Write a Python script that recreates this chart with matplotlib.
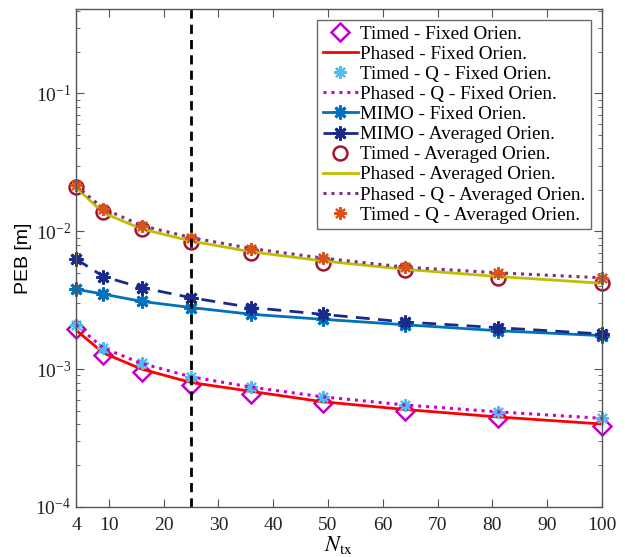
import matplotlib
matplotlib.use("Agg")
import matplotlib.pyplot as plt

# Data

n_tx = [4, 9, 16, 25, 36, 49, 64, 81, 100]

timed_fixed = [0.00197, 0.00127, 0.00096, 0.00077, 0.00066, 0.00057, 0.00050, 0.00044, 0.00039]
phased_fixed = [0.00192, 0.00131, 0.00100, 0.00080, 0.00069, 0.00058, 0.00051, 0.00045, 0.00040]
timed_q_fixed = [0.00210, 0.00142, 0.00110, 0.00088, 0.00074, 0.00063, 0.00055, 0.00049, 0.00044]
phased_q_fixed = [0.00210, 0.00142, 0.00110, 0.00088, 0.00074, 0.00063, 0.00055, 0.00049, 0.00044]
mimo_fixed = [0.0038, 0.0035, 0.0031, 0.0028, 0.0025, 0.0023, 0.0021, 0.0019, 0.00175]
mimo_avg = [0.0063, 0.0047, 0.0039, 0.0033, 0.0028, 0.0025, 0.0022, 0.0020, 0.0018]
timed_avg = [0.0208, 0.0139, 0.0104, 0.0084, 0.0070, 0.0059, 0.0052, 0.0046, 0.0042]
phased_avg = [0.0208, 0.0136, 0.0104, 0.0085, 0.0071, 0.0061, 0.0053, 0.0047, 0.0042]
phased_q_avg = [0.0215, 0.0146, 0.0110, 0.0090, 0.0075, 0.0064, 0.0055, 0.0050, 0.0046]
timed_q_avg = [0.0215, 0.0146, 0.0110, 0.0090, 0.0075, 0.0064, 0.0055, 0.0050, 0.0046]

legend_labels = [
    "Timed - Fixed Orien.",
    "Phased - Fixed Orien.",
    "Timed - Q - Fixed Orien.",
    "Phased - Q - Fixed Orien.",
    "MIMO - Fixed Orien.",
    "MIMO - Averaged Orien.",
    "Timed - Averaged Orien.",
    "Phased - Averaged Orien.",
    "Phased - Q - Averaged Orien.",
    "Timed - Q - Averaged Orien.",
]

plt.rcParams["font.family"] = ["Liberation Serif", "DejaVu Serif"]
plt.rcParams["mathtext.fontset"] = "stix"

fig = plt.figure(figsize=(6.25, 5.57), dpi=100)
ax = fig.add_axes([0.1216, 0.0898, 0.8416, 0.894])

star = (8, 2, 0)

ax.plot(n_tx, timed_fixed, linestyle="none", marker="D", markersize=9,
        markerfacecolor="none", markeredgecolor="#C000C8", markeredgewidth=1.8,
        label=legend_labels[0], clip_on=False)
ax.plot(n_tx, phased_fixed, color="#FF0000", linewidth=2, label=legend_labels[1])
ax.plot(n_tx, timed_q_fixed, linestyle="none", marker=star, markersize=9,
        color="#4DBEEE", markeredgewidth=1.6, label=legend_labels[2], clip_on=False)
ax.plot(n_tx, phased_q_fixed, color="#CC00CC", linewidth=2.2, linestyle=(0, (1, 1.6)),
        label=legend_labels[3])
ax.plot(n_tx, mimo_fixed, color="#0072BD", linewidth=2, marker=star, markersize=10,
        markeredgewidth=2, label=legend_labels[4], clip_on=False)
ax.plot(n_tx, mimo_avg, color="#1A2A8A", linewidth=2, linestyle=(0, (5, 3)),
        marker=star, markersize=10, markeredgewidth=2, label=legend_labels[5],
        clip_on=False)
ax.plot(n_tx, timed_avg, linestyle="none", marker="o", markersize=10,
        markerfacecolor="none", markeredgecolor="#A2142F", markeredgewidth=1.8,
        label=legend_labels[6], clip_on=False)
ax.plot(n_tx, phased_avg, color="#BFBF00", linewidth=2, label=legend_labels[7])
ax.plot(n_tx, phased_q_avg, color="#7E2F8E", linewidth=2.2, linestyle=(0, (1, 1.6)),
        label=legend_labels[8])
ax.plot(n_tx, timed_q_avg, linestyle="none", marker=star, markersize=9,
        color="#D95319", markeredgewidth=1.6, label=legend_labels[9], clip_on=False)

ax.axvline(25, color="black", linewidth=2, linestyle=(0, (3.3, 2.2)))

ax.set_yscale("log")
ax.set_xlim(4, 100)
ax.set_ylim(1e-4, 0.41)
ax.set_xticks([4, 10, 20, 30, 40, 50, 60, 70, 80, 90, 100])

for side in ["left", "right", "top", "bottom"]:
    ax.spines[side].set_color("#555555")
    ax.spines[side].set_linewidth(1)

ax.tick_params(which="both", direction="in", top=True, right=True,
               colors="#555555", labelcolor="#222222", labelsize=14)
ax.tick_params(which="major", length=6)
ax.tick_params(which="minor", length=3)
ax.tick_params(axis="x", pad=7)

ax.set_xlabel(r"$N_{\rm tx}$", fontsize=16, labelpad=0)
ax.set_ylabel("PEB [m]", fontsize=14, family=["Liberation Sans", "DejaVu Sans"], labelpad=2)

leg = ax.legend(loc="upper right", fontsize=13.8, frameon=True, fancybox=False,
                edgecolor="#444444", borderpad=0.3, labelspacing=0.14,
                handlelength=1.8, handletextpad=0.15, borderaxespad=0.55)
leg.get_frame().set_linewidth(1)

fig.savefig("out.png", dpi=100)
